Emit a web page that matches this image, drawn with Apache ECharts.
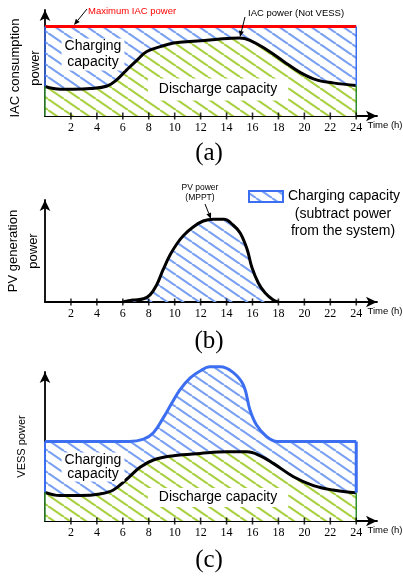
<!DOCTYPE html>
<html><head><meta charset="utf-8">
<script src="https://cdn.jsdelivr.net/npm/echarts@6/dist/echarts.min.js"></script>
<style>html,body{margin:0;padding:0;background:#fff}#c{width:403px;height:578px}</style>
</head><body><div id="c"></div>
<script>
// ---------------- data ----------------
const TICK_HOURS = [2, 4, 6, 8, 10, 12, 14, 16, 18, 20, 22, 24];
const TICK_LABELS = ['2', '4', '6', '8', '10', '12', '14', '16', '18', '20', '22', '24'];

// (a) IAC consumption
const MAX_HOURS = [0, 24];
const MAX_IAC = [10, 10];
const IAC_HOURS = [0, 1.2, 2.2, 3.5, 4.8, 5.5, 6.3, 7.1, 7.85, 8.9, 9.9, 10.9, 12, 13.5, 15, 15.8, 17.1, 18.4, 19.7, 21, 22.2, 24];
const IAC_POWER = [3.3, 3.0, 3.0, 3.07, 3.35, 4.0, 5.15, 6.25, 7.2, 7.75, 8.15, 8.3, 8.4, 8.6, 8.7, 8.45, 7.4, 6.1, 4.85, 4.0, 3.7, 3.4];

// (b) PV generation
const PV_HOURS = [6, 6.8, 7.6, 8.1, 8.6, 9.1, 9.65, 10.2, 10.7, 11.4, 12.2, 13, 13.8, 14.5, 15.05, 15.6, 15.95, 16.46, 16.98, 17.6, 18];
const PV_POWER = [0, 0.22, 0.37, 0.8, 1.9, 3.6, 5.3, 6.6, 7.5, 8.4, 9.1, 9.3, 9.3, 8.65, 7.75, 5.85, 3.9, 2.1, 1.0, 0.22, 0];

// (c) VESS power
const VESS_UP_HOURS = [0, 5, 6.5, 7.6, 8.36, 9.13, 9.77, 10.4, 11.2, 12, 12.7, 13.5, 14.5, 15.3, 15.8, 16.3, 17.1, 17.9, 19, 24];
const VESS_UP_POWER = [10, 10, 10, 10.3, 11.1, 13.0, 14.8, 16.5, 18.0, 18.9, 19.4, 19.4, 18.7, 17.1, 14.0, 12.1, 10.6, 10, 10, 10];
const VESS_LOW_HOURS = [0, 1.16, 2.7, 4.24, 5.27, 6.3, 7.33, 8.36, 9.9, 11.96, 14, 15.56, 16.6, 17.6, 19.16, 20.7, 22.2, 24];
const VESS_LOW_POWER = [3.6, 3.2, 3.2, 3.4, 3.9, 5.25, 6.75, 7.67, 8.2, 8.5, 8.7, 8.7, 8.2, 7.25, 5.57, 4.45, 3.9, 3.55];

// ---------------- styling ----------------
const SANS = '"Liberation Sans", Arial, sans-serif';
const SERIF = '"Liberation Serif", "Times New Roman", serif';
const BLUE = '#3b6ef0';
const BLUE_STRIPE = '#7aa0f2';
const GREEN_STRIPE = '#a8d040';
const GREEN_EDGE = '#2e8b2e';

function hatch(color, bg) {
  const w = 16, h = 11;
  const c = document.createElement('canvas');
  c.width = w; c.height = h;
  const ctx = c.getContext('2d');
  if (bg) { ctx.fillStyle = bg; ctx.fillRect(0, 0, w, h); }
  ctx.strokeStyle = color; ctx.lineWidth = 2.1;
  for (let k = -1; k <= 1; k++) {
    ctx.beginPath(); ctx.moveTo(k * w, 0); ctx.lineTo(k * w + w, h); ctx.stroke();
  }
  return { image: c, repeat: 'repeat' };
}
const blueHatch = hatch(BLUE_STRIPE, null);
const greenHatch = hatch(GREEN_STRIPE, '#ffffff');

const zip = (xs, ys) => xs.map((x, i) => [x, ys[i]]);
const last = a => a[a.length - 1];

const X_MAX = 25.6;
const Y_MAX = [11.84, 11.46, 18.74];
const grids = [
  { left: 45, right: 26, top: 10, bottom: 462, outerBoundsMode: 'none', containLabel: false },
  { left: 45, right: 26, top: 200, bottom: 276, outerBoundsMode: 'none', containLabel: false },
  { left: 45, right: 26, top: 372, bottom: 57, outerBoundsMode: 'none', containLabel: false }
];

const arrowLine = { show: true, symbol: ['none', 'arrow'], symbolSize: [8, 11], lineStyle: { color: '#000', width: 1.8 } };

const xAxes = grids.map((g, i) => ({
  type: 'value', gridIndex: i, min: 0, max: X_MAX, interval: 2,
  axisLine: arrowLine, axisTick: { show: false }, splitLine: { show: false },
  axisLabel: {
    margin: 6, color: '#000', fontFamily: SERIF, fontSize: 12,
    formatter: v => { const k = TICK_HOURS.indexOf(v); return k >= 0 ? TICK_LABELS[k] : ''; }
  },
  name: 'Time (h)', nameLocation: 'end', nameGap: 8,
  nameTextStyle: { fontFamily: SANS, fontSize: 9.5, color: '#000', align: 'center', verticalAlign: 'top', padding: [4, 0, 0, 0] }
}));

const yNames = ['IAC consumption\npower', 'PV generation\npower', 'VESS power'];
const yGaps = [20, 22, 23];
const yFont = [13, 13, 11];
const yPad = [[0, 10, 0, 0], [0, 0, 0, 0], [0, 0, 0, 0]];
const yAxes = grids.map((g, i) => ({
  type: 'value', gridIndex: i, min: 0, max: Y_MAX[i],
  axisLine: arrowLine, axisTick: { show: false }, axisLabel: { show: false }, splitLine: { show: false },
  name: yNames[i], nameLocation: 'middle', nameRotate: 90, nameGap: yGaps[i],
  nameTextStyle: { fontFamily: SANS, fontSize: yFont[i], color: '#000', lineHeight: 20, align: 'center', verticalAlign: 'middle', padding: yPad[i] }
}));

function edge(i, pts, color, width) {
  return { type: 'line', xAxisIndex: i, yAxisIndex: i, data: pts, symbol: 'none', silent: true, z: 4,
    lineStyle: { color, width }, clip: false };
}
function ticks(i) {
  return { type: 'scatter', xAxisIndex: i, yAxisIndex: i, data: TICK_HOURS.map(t => [t, 0]), symbol: 'rect',
    symbolSize: [1.6, 7], itemStyle: { color: '#000' }, silent: true, clip: false, z: 6 };
}

const series = [
  // (a)
  { type: 'line', name: 'Maximum IAC power', xAxisIndex: 0, yAxisIndex: 0, data: zip(MAX_HOURS, MAX_IAC), symbol: 'none',
    lineStyle: { color: '#ff0000', width: 3 }, areaStyle: { color: blueHatch, opacity: 1 }, z: 2 },
  { type: 'line', name: 'IAC power (Not VESS)', xAxisIndex: 0, yAxisIndex: 0, data: zip(IAC_HOURS, IAC_POWER), symbol: 'none',
    smooth: 0.4, lineStyle: { color: '#000', width: 3 }, areaStyle: { color: greenHatch, opacity: 1 }, z: 3 },
  edge(0, [[0, IAC_POWER[0]], [0, MAX_IAC[0]]], BLUE, 1.5),
  edge(0, [[24, last(IAC_POWER)], [24, last(MAX_IAC)]], BLUE, 1.5),
  edge(0, [[0, 0], [0, IAC_POWER[0]]], GREEN_EDGE, 1.5),
  edge(0, [[24, 0], [24, last(IAC_POWER)]], GREEN_EDGE, 1.5),
  ticks(0),
  // (b)
  { type: 'line', name: 'PV power (MPPT)', xAxisIndex: 1, yAxisIndex: 1, data: zip(PV_HOURS, PV_POWER), symbol: 'none',
    smooth: 0.4, lineStyle: { color: '#000', width: 3 }, areaStyle: { color: blueHatch, opacity: 1 }, z: 3 },
  ticks(1),
  // (c)
  { type: 'line', name: 'VESS power', xAxisIndex: 2, yAxisIndex: 2, data: zip(VESS_UP_HOURS, VESS_UP_POWER), symbol: 'none',
    smooth: 0.4, clip: false, lineStyle: { color: BLUE, width: 3 }, areaStyle: { color: blueHatch, opacity: 1 }, z: 2 },
  { type: 'line', name: 'IAC power', xAxisIndex: 2, yAxisIndex: 2, data: zip(VESS_LOW_HOURS, VESS_LOW_POWER), symbol: 'none',
    smooth: 0.4, lineStyle: { color: '#000', width: 3 }, areaStyle: { color: greenHatch, opacity: 1 }, z: 3 },
  edge(2, [[0, VESS_LOW_POWER[0]], [0, VESS_UP_POWER[0]]], BLUE, 2),
  edge(2, [[24, last(VESS_LOW_POWER)], [24, last(VESS_UP_POWER)]], BLUE, 3),
  edge(2, [[0, 0], [0, VESS_LOW_POWER[0]]], GREEN_EDGE, 1.5),
  edge(2, [[24, 0], [24, last(VESS_LOW_POWER)]], GREEN_EDGE, 1.5),
  ticks(2)
];

// ---------------- annotations ----------------
function txt(x, y, text, opt) {
  return { type: 'text', x, y, z: 50, silent: true,
    style: Object.assign({ text, fill: '#000', fontFamily: SANS, fontSize: 14, align: 'center', verticalAlign: 'middle' }, opt || {}) };
}
function arrow(x1, y1, x2, y2) {
  const L = 6, W = 5;
  const dx = x2 - x1, dy = y2 - y1, len = Math.hypot(dx, dy);
  const ux = dx / len, uy = dy / len;
  const bx = x2 - ux * L, by = y2 - uy * L;
  const nx = -uy, ny = ux;
  return { type: 'group', z: 50, silent: true, children: [
    { type: 'line', z: 50, shape: { x1, y1, x2: bx, y2: by }, style: { stroke: '#000', lineWidth: 1 } },
    { type: 'polygon', z: 50, shape: { points: [[x2, y2], [bx + nx * W / 2, by + ny * W / 2], [bx - nx * W / 2, by - ny * W / 2]] }, style: { fill: '#000' } }
  ] };
}

const graphic = [
  // (a)
  txt(88, 11.5, 'Maximum IAC power', { align: 'left', fill: '#ff0000', fontSize: 9.5 }),
  arrow(87, 9, 74, 25),
  txt(248, 13, 'IAC power (Not VESS)', { align: 'left', fontSize: 9.5 }),
  arrow(245, 17, 240, 37),
  txt(93, 54.5, 'Charging\ncapacity', { lineHeight: 16, backgroundColor: '#fff', padding: [0, 3] }),
  txt(218, 89.5, 'Discharge capacity', { lineHeight: 16, backgroundColor: '#fff', padding: [3, 11] }),
  txt(209, 153, '(a)', { fontFamily: SERIF, fontSize: 25 }),
  // (b)
  txt(200, 192.5, 'PV power\n(MPPT)', { fontSize: 8.5, lineHeight: 10 }),
  arrow(205, 204, 211, 219),
  { type: 'rect', z: 50, silent: true, shape: { x: 249, y: 191, width: 34, height: 11 }, style: { fill: blueHatch, stroke: BLUE, lineWidth: 2 } },
  txt(288, 196.5, 'Charging capacity', { align: 'left' }),
  txt(343, 222.5, '(subtract power\nfrom the system)', { lineHeight: 17 }),
  txt(209, 341, '(b)', { fontFamily: SERIF, fontSize: 25 }),
  // (c)
  txt(93, 467, 'Charging\ncapacity', { lineHeight: 14.5, backgroundColor: '#fff', padding: [0, 3] }),
  txt(218, 497.5, 'Discharge capacity', { lineHeight: 16, backgroundColor: '#fff', padding: [1.5, 11] }),
  txt(209, 560, '(c)', { fontFamily: SERIF, fontSize: 25 })
];

const chart = echarts.init(document.getElementById('c'), null, { renderer: 'canvas' });
chart.setOption({
  animation: false,
  backgroundColor: '#fff',
  grid: grids,
  xAxis: xAxes,
  yAxis: yAxes,
  series,
  graphic
});
</script></body></html>
